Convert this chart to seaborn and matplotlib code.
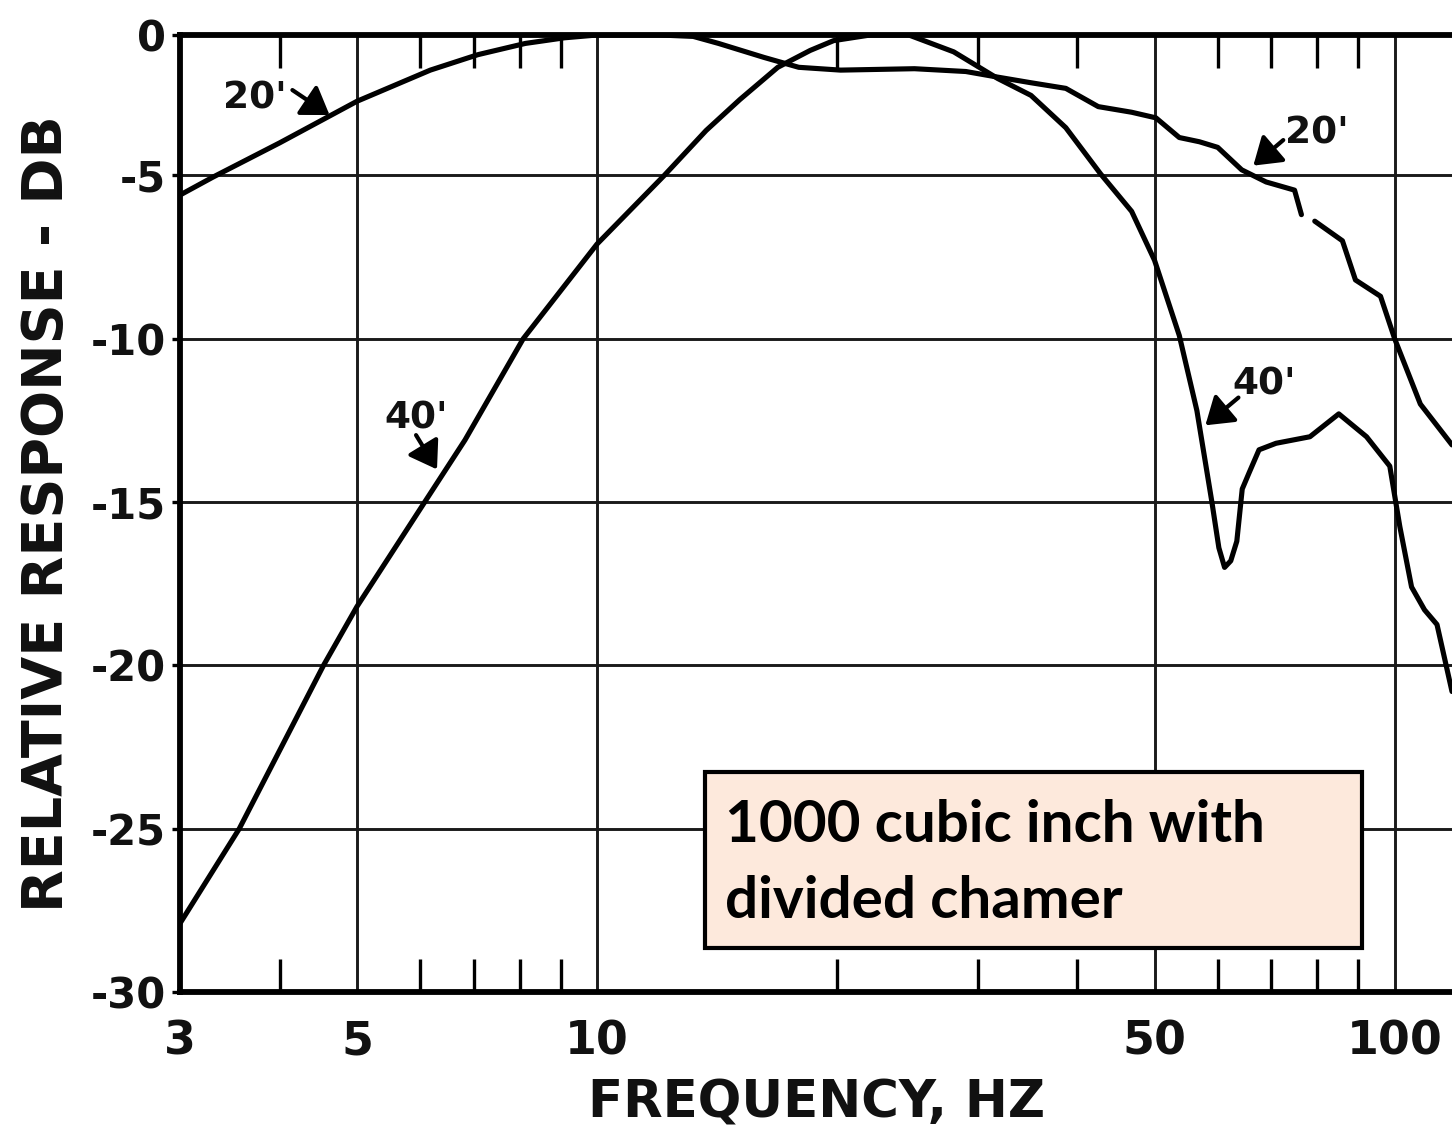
import numpy as np
import pandas as pd
import matplotlib
matplotlib.use("Agg")
import matplotlib.pyplot as plt
import seaborn as sns
from matplotlib.patches import Rectangle
from matplotlib.ticker import FixedLocator, NullFormatter

# ---------------- data ----------------
freq_20 = [3, 3.3, 4, 5, 6.18, 7.09, 8.13, 9.1, 10, 12, 13.2, 14.2, 16.2, 17.9,
           20.2, 25, 29, 31.8, 35, 38.7, 42.5, 46.8, 50.2, 53.7, 56.9, 60, 64.3,
           69, 74.9, 76.4, 78, 79.4, 86, 89.3, 96, 100, 107.7, 118]
resp_20 = [-5.6, -5.05, -3.84, -2.36, -1.25, -0.7, -0.3, -0.1, 0.0, 0.0, -0.05,
           -0.3, -0.8, -1.15, -1.25, -1.2, -1.3, -1.5, -1.7, -1.9, -2.55, -2.75,
           -2.95, -3.65, -3.8, -4.0, -4.8, -5.2, -5.45, -6.2, np.nan, -6.4, -7.0,
           -8.2, -8.7, -10.0, -12.0, -13.25]

freq_40 = [3, 3.56, 4.54, 5, 6.08, 6.83, 8.08, 10, 12.14, 13.7, 15.1, 16.85, 18.5,
           19.8, 22, 24.6, 28, 31.8, 35, 38.7, 42.8, 46.8, 50, 53.7, 56.5, 59, 60.2,
           61.2, 62.3, 63.4, 64.4, 65.7, 67.6, 71, 78.3, 85.1, 92.2, 98.6, 101.5,
           105, 109, 113, 118]
resp_40 = [-27.9, -25.0, -20.0, -18.2, -15.0, -13.1, -10.0, -7.1, -5.0, -3.4, -2.3,
           -1.15, -0.55, -0.2, 0.0, 0.0, -0.6, -1.55, -2.15, -3.3, -4.95, -6.1, -7.6,
           -9.9, -12.2, -15.0, -16.4, -17.0, -16.8, -16.2, -14.6, -14.1, -13.4,
           -13.2, -13.0, -12.3, -13.0, -13.9, -15.75, -17.6, -18.3, -18.75, -20.8]

x_ticks = [3, 5, 10, 50, 100]
x_tick_labels = ["3", "5", "10", "50", "100"]
x_minor = [4, 6, 7, 8, 9, 20, 30, 40, 60, 70, 80, 90]
y_ticks = [0, -5, -10, -15, -20, -25, -30]
y_tick_labels = ["0", "-5", "-10", "-15", "-20", "-25", "-30"]

# curve labels: (text, text position, arrow tail, arrow tip)
curve_labels = [
    ("20'", (3.72, -2.25), (4.15, -1.96), (4.62, -2.85)),
    ("20'", (79.8, -3.5), (72.5, -3.74), (66.5, -4.65)),
    ("40'", (5.94, -12.45), (5.93, -12.95), (6.3, -14.0)),
    ("40'", (68.6, -11.4), (63.7, -11.8), (57.9, -12.65)),
]

box_lines = ["1000 cubic inch with", "divided chamer"]

# ---------------- figure ----------------
sns.set_theme(style="white")
plt.rcParams["font.family"] = ["DejaVu Sans"]

W, H = 1452, 1135
fig = plt.figure(figsize=(W / 100, H / 100), dpi=100)
ax = fig.add_axes([180 / W, 1 - 992 / H, 1272 / W, 957 / H])
ax.set_facecolor("white")
ax.set_xscale("log")

def make_df(f, r):
    d = pd.DataFrame({"freq": f, "db": r})
    d["seg"] = d["db"].isna().cumsum()
    return d.dropna()

df20 = make_df(freq_20, resp_20)
df40 = make_df(freq_40, resp_40)

for d in (df20, df40):
    sns.lineplot(data=d, x="freq", y="db", units="seg", estimator=None, sort=False,
                 color="black", lw=3.7, ax=ax, zorder=4)

# piecewise y scale (top 5 dB slightly compressed as in the scanned original)
k = 0.86
def fwd(y):
    y = np.asarray(y, dtype=float)
    return np.where(y > -5, -5 + (y + 5) * k, y)
def inv(u):
    u = np.asarray(u, dtype=float)
    return np.where(u > -5, -5 + (u + 5) / k, u)
ax.set_yscale("function", functions=(fwd, inv))

ax.set_xlim(3, 118)
ax.set_ylim(-30, 0)

# ticks
ax.set_xticks(x_ticks, x_tick_labels)
ax.xaxis.set_minor_locator(FixedLocator(x_minor))
ax.xaxis.set_minor_formatter(NullFormatter())
ax.set_yticks(y_ticks, y_tick_labels)
ax.yaxis.set_minor_locator(FixedLocator([]))

ax.tick_params(axis="x", which="major", length=0, pad=20, labelsize=33)
ax.tick_params(axis="x", which="minor", direction="in", top=True, bottom=True,
               length=24, width=2.4, color="black")
ax.tick_params(axis="y", which="major", direction="out", left=True, length=6,
               width=2.4, color="black", pad=4, labelsize=30)
for lab in ax.get_xticklabels() + ax.get_yticklabels():
    lab.set_fontweight("bold")
    lab.set_color("#111111")

# grid
ax.grid(True, which="major", axis="both", color="#1a1a1a", lw=2.1, zorder=1)
ax.grid(False, which="minor")

for side in ("top", "left", "bottom"):
    ax.spines[side].set_visible(True)
    ax.spines[side].set_linewidth(4.2)
    ax.spines[side].set_color("black")
ax.spines["right"].set_visible(False)

# axis labels
ax.set_xlabel("FREQUENCY, HZ", fontsize=37, fontweight="bold", color="#111111")
ax.set_ylabel("RELATIVE RESPONSE - DB", fontsize=40, fontweight="bold", color="#111111")
ax.xaxis.set_label_coords(0.5, -0.09)
ax.yaxis.set_label_coords(-0.083, 0.5)

# curve labels with small arrowheads
arrow = dict(arrowstyle="-|>,head_length=0.9,head_width=0.6", color="black",
             lw=3, shrinkA=0, shrinkB=0, mutation_scale=18)
for txt, tpos, tail, tip in curve_labels:
    ax.text(tpos[0], tpos[1], txt, ha="center", va="center", fontsize=27,
            fontweight="bold", color="#111111", zorder=6)
    ax.annotate("", xy=tip, xytext=tail, arrowprops=arrow, zorder=6)

# text box
x0 = (705 - 180) / 1272
x1 = (1362 - 180) / 1272
y1 = (992 - 772) / 957
y0 = (992 - 948) / 957
ax.add_patch(Rectangle((x0, y0), x1 - x0, y1 - y0, transform=ax.transAxes,
                       facecolor="#FDE9DC", edgecolor="black", lw=3, zorder=8))
tx = (725 - 180) / 1272
for line, ypix in zip(box_lines, (842, 918)):
    ax.text(tx, (992 - ypix) / 957, line, transform=ax.transAxes, ha="left",
            va="baseline", fontsize=42, fontweight="bold", family="Lato",
            color="black", zorder=9)

fig.savefig("out.png", dpi=100, facecolor="white")
